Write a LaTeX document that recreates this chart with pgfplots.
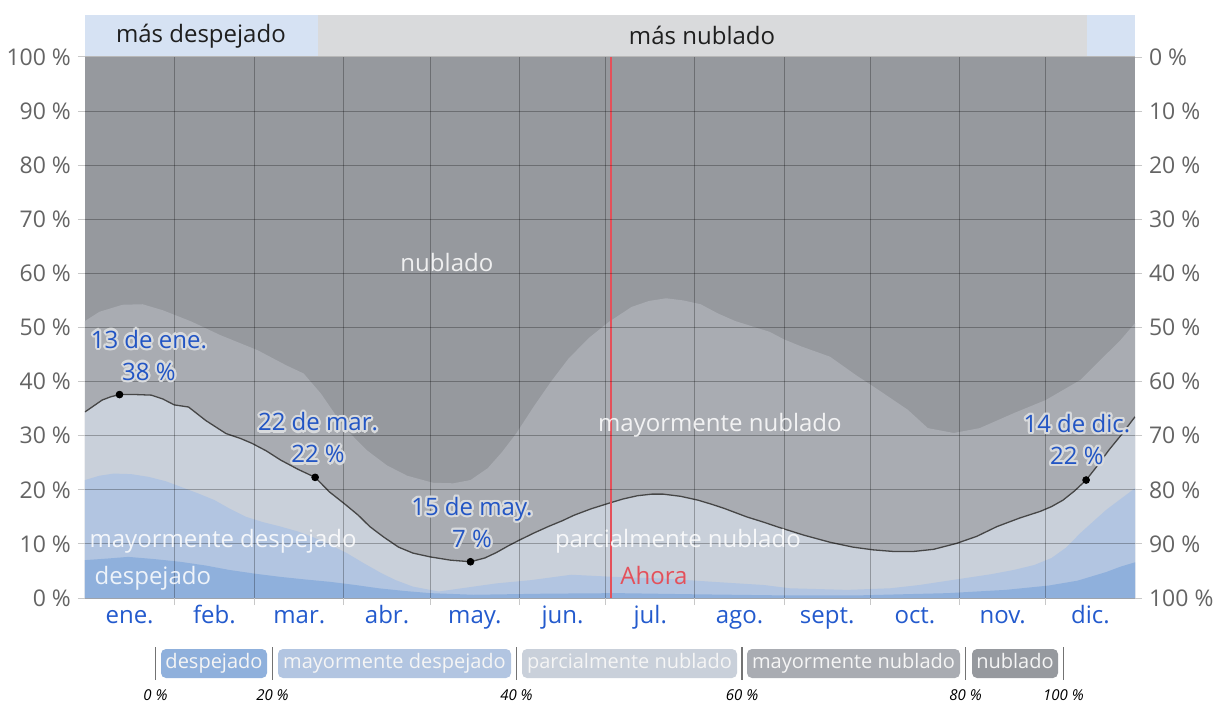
\documentclass[border=0pt]{standalone}
\usepackage{fontspec}
\setmainfont{Open Sans}
\usepackage{pgfplots}
\pgfplotsset{compat=1.18}
\usepackage[copies]{contour}
\contourlength{1.1pt}
\contournumber{16}
\newcommand{\fs}[2]{\fontsize{#1}{#2}\selectfont}
\newcommand{\hl}[1]{\contour{white!55!cMNub}{#1}}
\definecolor{cDes}{RGB}{143,176,220}
\definecolor{cMDes}{RGB}{178,197,225}
\definecolor{cPar}{RGB}{201,208,218}
\definecolor{cMNub}{RGB}{169,172,178}
\definecolor{cNub}{RGB}{150,153,158}
\definecolor{bandBlue}{RGB}{214,226,243}
\definecolor{bandGray}{RGB}{217,218,220}
\definecolor{tickgray}{RGB}{100,100,100}
\definecolor{tickline}{RGB}{200,200,200}
\definecolor{mblue}{RGB}{35,90,205}
\definecolor{ablue}{RGB}{34,85,196}
\definecolor{ahora}{RGB}{228,80,90}
\definecolor{lineCol}{RGB}{70,70,70}
\begin{document}
\begin{tikzpicture}
\begin{axis}[name=main, at={(0,0)}, anchor=south west,
  width=525pt, height=270.5pt, scale only axis,
  xmin=0, xmax=365, ymin=0, ymax=100,
  axis on top, axis line style={draw=none},
  xtick={31,59,90,120,151,181,212,243,273,304,334}, xticklabels={},
  extra x ticks={15.5,45,74.5,105,135.5,166,196.5,227.5,258,288.5,319,349.5},
  extra x tick labels={ene.,feb.,mar.,abr.,may.,jun.,jul.,ago.,sept.,oct.,nov.,dic.},
  extra x tick style={grid=none, major tick length=0pt,
     tick label style={text=mblue, font=\fs{12}{14}, text height=8.6pt, text depth=2.6pt, inner sep=3.8pt}},
  ytick={0,10,...,100},
  yticklabels={0 \%,10 \%,20 \%,30 \%,40 \%,50 \%,60 \%,70 \%,80 \%,90 \%,100 \%},
  yticklabel style={text=tickgray, font=\fs{11.5}{13}},
  tick pos=left, tick align=outside, major tick length=3.5pt,
  tick style={draw=tickline, line width=0.5pt},
  grid=major, major grid style={draw=black, opacity=0.28, line width=0.5pt},
]
\addplot[fill=cNub, draw=none] coordinates {(0,100) (365,100)} \closedcycle;
\addplot[fill=cMNub, draw=none] coordinates {(0,51.2) (5,52.9) (13,54.2) (20,54.3) (27,53.2) (37,51.1) (47,48.6) (60,45.8) (70,43.0) (76,41.5) (82,37.8) (90,31.6) (98,27.3) (105,24.5) (112,22.6) (121,21.3) (128,21.2) (134,21.8) (140,24.0) (145,27.0) (150,30.5) (156,35.4) (162,40.0) (168,44.2) (175,48.0) (182,51.0) (190,53.8) (196,54.9) (202,55.4) (208,55.0) (214,54.3) (220,52.6) (226,51.2) (232,50.2) (238,49.2) (243,47.8) (249,46.5) (259,44.6) (268,41.2) (276,38.4) (286,34.8) (293,31.4) (302,30.5) (311,31.4) (323,34.2) (334,36.6) (346,40.3) (353,44.0) (360,47.7) (365,50.8)} \closedcycle;
\addplot[fill=cPar, draw=none] coordinates {(0,34.4) (3,35.5) (6,36.6) (9,37.2) (12,37.6) (18,37.6) (23,37.5) (27,36.8) (31,35.7) (36,35.3) (42,32.8) (49,30.4) (54,29.5) (58,28.6) (63,27.2) (68,25.5) (74,23.8) (80,22.3) (85,19.6) (90,17.5) (95,15.3) (99,13.2) (104,11.2) (109,9.4) (114,8.3) (120,7.6) (127,7.0) (134,6.7) (139,7.4) (143,8.4) (147,9.6) (151,10.7) (156,12.0) (161,13.2) (166,14.3) (170,15.3) (176,16.5) (182,17.5) (187,18.3) (192,18.9) (197,19.2) (201,19.2) (207,18.8) (213,18.1) (218,17.3) (222,16.6) (226,15.8) (230,15.0) (236,14.0) (241,13.1) (250,11.6) (259,10.3) (267,9.4) (274,8.9) (281,8.6) (288,8.6) (295,9.0) (303,10.1) (310,11.4) (317,13.2) (325,14.8) (332,16.0) (336,16.9) (340,18.1) (344,19.8) (348,21.8) (352,24.5) (356,27.4) (360,30.0) (365,33.5)} \closedcycle;
\addplot[fill=cMDes, draw=none] coordinates {(0,21.8) (5,22.6) (10,23.0) (16,22.9) (22,22.4) (28,21.6) (33,20.6) (39,19.4) (45,18.1) (50,16.6) (56,15.0) (62,14.0) (68,13.2) (74,12.3) (79,11.3) (85,9.9) (91,8.3) (97,6.4) (103,4.6) (108,3.3) (114,2.1) (123,1.2) (131,1.8) (143,2.7) (155,3.3) (169,4.3) (184,3.9) (201,3.6) (218,3.0) (236,2.4) (245,1.8) (265,1.5) (280,1.8) (290,2.4) (305,3.6) (315,4.4) (323,5.2) (330,6.1) (336,7.4) (341,9.3) (346,12.0) (351,14.4) (355,16.3) (360,18.3) (365,20.3)} \closedcycle;
\addplot[fill=cDes, draw=none] coordinates {(0,7.0) (8,7.3) (15,7.6) (24,7.2) (33,6.7) (42,6.0) (50,5.2) (59,4.5) (68,3.9) (77,3.4) (85,3.0) (94,2.4) (102,1.8) (111,1.3) (120,0.9) (135,0.6) (160,0.8) (185,0.9) (210,0.7) (240,0.5) (270,0.5) (300,0.9) (320,1.5) (335,2.3) (345,3.2) (350,4.0) (355,4.8) (360,5.8) (365,6.6)} \closedcycle;
\addplot[draw=lineCol, line width=0.65pt] coordinates {(0,34.4) (3,35.5) (6,36.6) (9,37.2) (12,37.6) (18,37.6) (23,37.5) (27,36.8) (31,35.7) (36,35.3) (42,32.8) (49,30.4) (54,29.5) (58,28.6) (63,27.2) (68,25.5) (74,23.8) (80,22.3) (85,19.6) (90,17.5) (95,15.3) (99,13.2) (104,11.2) (109,9.4) (114,8.3) (120,7.6) (127,7.0) (134,6.7) (139,7.4) (143,8.4) (147,9.6) (151,10.7) (156,12.0) (161,13.2) (166,14.3) (170,15.3) (176,16.5) (182,17.5) (187,18.3) (192,18.9) (197,19.2) (201,19.2) (207,18.8) (213,18.1) (218,17.3) (222,16.6) (226,15.8) (230,15.0) (236,14.0) (241,13.1) (250,11.6) (259,10.3) (267,9.4) (274,8.9) (281,8.6) (288,8.6) (295,9.0) (303,10.1) (310,11.4) (317,13.2) (325,14.8) (332,16.0) (336,16.9) (340,18.1) (344,19.8) (348,21.8) (352,24.5) (356,27.4) (360,30.0) (365,33.5)};
\addplot[draw=ahora, line width=0.75pt] coordinates {(182.9,0) (182.9,100)};
\addplot[only marks, mark=*, mark size=1.7pt, draw=black, fill=black] coordinates {(12,37.6) (80,22.3) (134,6.7) (348,21.8)};
\coordinate (bandA) at (axis cs:0,100.1);
\coordinate (bandB) at (axis cs:81,107.76);
\coordinate (bandE) at (axis cs:81,100.1);
\coordinate (bandF) at (axis cs:348.3,107.76);
\coordinate (bandC) at (axis cs:348.3,100.1);
\coordinate (bandD) at (axis cs:365,107.76);
\coordinate (tBand1) at (axis cs:40.3,103.9);
\coordinate (tBand2) at (axis cs:214.5,103.9);
\coordinate (tNub) at (axis cs:125.8,62.1);
\coordinate (tMNub) at (axis cs:220.7,32.0);
\coordinate (tPar) at (axis cs:206.1,10.5);
\coordinate (tMDes) at (axis cs:48,10.5);
\coordinate (tDes) at (axis cs:23.6,3.7);
\coordinate (tAhora) at (axis cs:197.8,4.1);
\coordinate (a1) at (axis cs:22.2,44.7);
\coordinate (a2) at (axis cs:81,29.4);
\coordinate (a3) at (axis cs:134.5,13.8);
\coordinate (a4) at (axis cs:344.8,29.1);
\end{axis}
\begin{axis}[at={(0,0)}, anchor=south west,
  width=525pt, height=270.5pt, scale only axis,
  xmin=0, xmax=365, ymin=0, ymax=100, y dir=reverse,
  hide x axis, axis y line*=right, y axis line style={draw=none},
  ytick={0,10,...,100},
  yticklabels={0 \%,10 \%,20 \%,30 \%,40 \%,50 \%,60 \%,70 \%,80 \%,90 \%,100 \%},
  yticklabel style={text=tickgray, font=\fs{11.5}{13}},
  tick align=outside, major tick length=3.5pt,
  tick style={draw=tickline, line width=0.5pt},
]
\addplot[draw=none] coordinates {(0,0) (365,100)};
\end{axis}
% top band
\fill[bandBlue] (bandA) rectangle (bandB);
\fill[bandGray] (bandE) rectangle (bandF);
\fill[bandBlue] (bandC) rectangle (bandD);
\node[font=\fs{12}{14}, text=black!88] at (tBand1) {más despejado};
\node[font=\fs{12}{14}, text=black!88] at (tBand2) {más nublado};
% area labels
\begin{scope}[every node/.style={font=\fs{12}{14}, text=white, text opacity=0.85}]
\node at (tNub) {nublado};
\node at (tMNub) {mayormente nublado};
\node at (tPar) {parcialmente nublado};
\node at (tMDes) {mayormente despejado};
\node at (tDes) {despejado};
\end{scope}
\node[font=\fs{12}{14}, text=ahora] at (tAhora) {Ahora};
% annotations
\begin{scope}[every node/.style={font=\fs{12}{16}, text=ablue, align=center}]
\node at (a1) {\hl{13 de ene.}\\\hl{38 \%}};
\node at (a2) {\hl{22 de mar.}\\\hl{22 \%}};
\node at (a3) {\hl{15 de may.}\\\hl{7 \%}};
\node at (a4) {\hl{14 de dic.}\\\hl{22 \%}};
\end{scope}
% legend
\foreach \cx/\w/\col/\txt in {64.5/53/cDes/despejado, 154.75/116.5/cMDes/mayormente despejado, 272.25/107.5/cPar/parcialmente nublado, 384.25/106.5/cMNub/mayormente nublado, 465/43/cNub/nublado}
  \node[fill=\col, rounded corners=2.5pt, minimum width=\w pt, minimum height=14.5pt, inner sep=0pt, text height=7.6pt, text depth=2.2pt, text=white!96!black, font=\fs{10}{12}] at (\cx pt,-32.75pt) {\txt};
\foreach \sx/\lab in {35.25/0, 93.75/20, 215.75/40, 328.5/60, 440.25/80, 489.25/100} {
  \draw[black!55, line width=0.7pt] (\sx pt,-24.5pt) -- (\sx pt,-41pt);
  \node[font=\fs{7.5}{9}\itshape] at (\sx pt,-48.5pt) {\lab~\%};
}
\pgfresetboundingbox
\path[use as bounding box] (-42.5pt,-52pt) rectangle (565pt,299pt);
\end{tikzpicture}
\end{document}
